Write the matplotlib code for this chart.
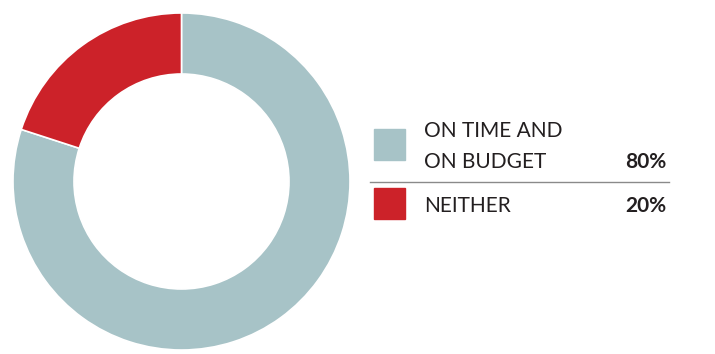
import matplotlib.pyplot as plt
from matplotlib.patches import Rectangle

labels = ["ON TIME AND\nON BUDGET", "NEITHER"]
shares = [80, 20]
colors = ["#A7C3C7", "#CC2229"]

W, H = 715, 354
fig = plt.figure(figsize=(W / 100, H / 100), dpi=100)
plt.rcParams['font.family'] = ['Lato', 'DejaVu Sans']

# donut, centred at (181.5, 181.5) px with outer radius ~168.5 px
cx, cy, r = 181.5, 181.5, 168.5
ax = fig.add_axes([(cx - r) / W, (H - cy - r) / H, 2 * r / W, 2 * r / H])
ax.pie(shares, colors=colors, startangle=90, counterclock=False, radius=1,
       wedgeprops=dict(width=0.362, edgecolor="white", linewidth=1.2))
ax.set_xlim(-1, 1)
ax.set_ylim(-1, 1)
ax.axis("off")

# legend drawn in pixel coordinates
lg = fig.add_axes([0, 0, 1, 1])
lg.set_xlim(0, W)
lg.set_ylim(H, 0)
lg.axis("off")

txt = "#231F20"
rows_y = [129, 188]
text_y = [[131, 162], [206]]
for i, lab in enumerate(labels):
    lg.add_patch(Rectangle((373.5, rows_y[i]), 31, 31, color=colors[i]))
    for line, ty in zip(lab.split("\n"), text_y[i]):
        lg.text(424, ty, line, fontsize=15, color=txt, va="center", ha="left")
    lg.text(666, text_y[i][-1], f"{shares[i]}%", fontsize=15, color=txt,
            va="center", ha="right", fontweight="bold")

lg.plot([370, 669], [181.7, 181.7], color="#8A8A8A", linewidth=1)

fig.savefig("out.png", dpi=100)
